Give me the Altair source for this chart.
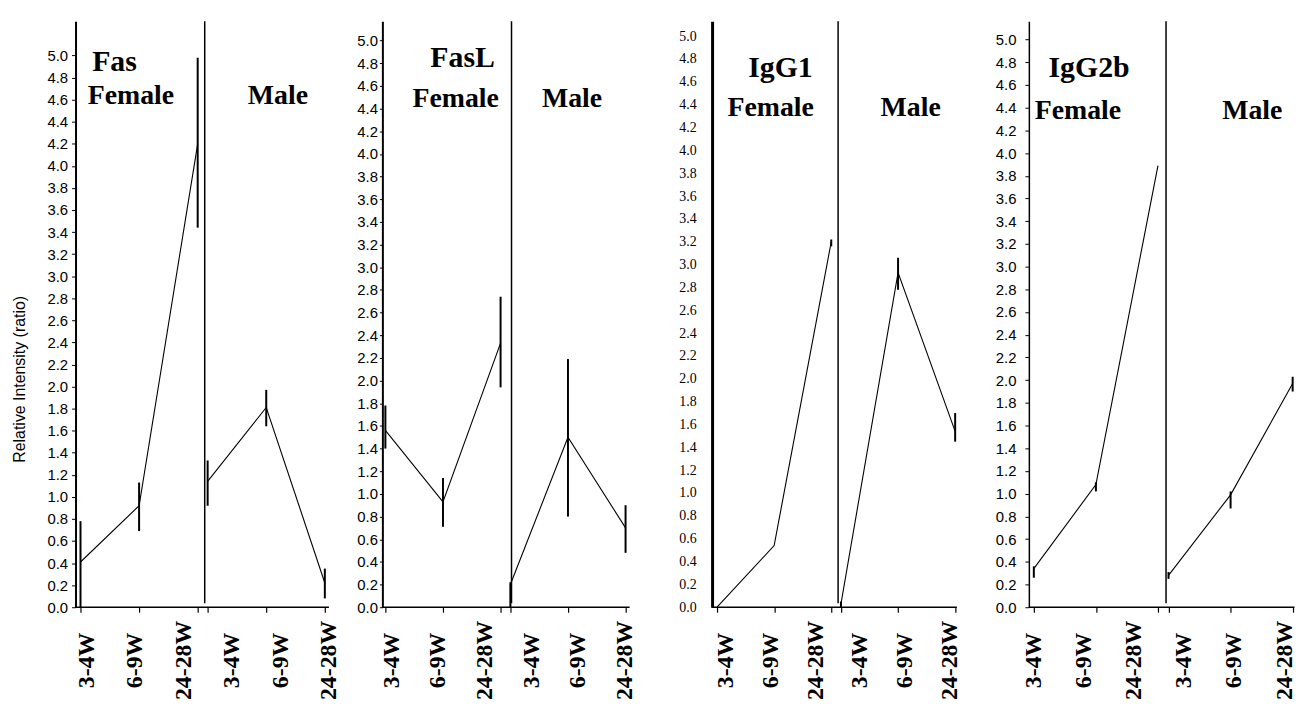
import altair as alt
import pandas as pd

# ---------------- data ----------------
panel_names = ["Fas", "FasL", "IgG1", "IgG2b"]
sexes = ["Female", "Male"]
ages = ["3-4W", "6-9W", "24-28W"]

# order: Female 3-4W, 6-9W, 24-28W, Male 3-4W, 6-9W, 24-28W
fas_mean = [0.41, 0.92, 4.20, 1.14, 1.81, 0.22]
fas_low = [0.00, 0.69, 3.44, 0.92, 1.64, 0.08]
fas_high = [0.78, 1.13, 4.98, 1.33, 1.97, 0.35]

fasl_mean = [1.56, 0.93, 2.33, 0.20, 1.50, 0.70]
fasl_low = [1.40, 0.71, 1.94, 0.00, 0.80, 0.48]
fasl_high = [1.78, 1.14, 2.74, 0.22, 2.19, 0.90]

igg1_mean = [0.00, 0.54, 3.20, 0.03, 2.93, 1.54]
igg1_low = [0.00, 0.54, 3.16, 0.00, 2.78, 1.45]
igg1_high = [0.00, 0.54, 3.22, 0.05, 3.06, 1.70]

igg2b_mean = [0.34, 1.08, 3.89, 0.28, 0.99, 1.97]
igg2b_low = [0.26, 1.02, 3.89, 0.25, 0.87, 1.90]
igg2b_high = [0.36, 1.10, 3.89, 0.31, 1.02, 2.03]

y_ticks = [0.0, 0.2, 0.4, 0.6, 0.8, 1.0, 1.2, 1.4, 1.6, 1.8, 2.0, 2.2, 2.4,
           2.6, 2.8, 3.0, 3.2, 3.4, 3.6, 3.8, 4.0, 4.2, 4.4, 4.6, 4.8, 5.0]

y_title = "Relative Intensity (ratio)"

series = {
    "Fas": (fas_mean, fas_low, fas_high),
    "FasL": (fasl_mean, fasl_low, fasl_high),
    "IgG1": (igg1_mean, igg1_low, igg1_high),
    "IgG2b": (igg2b_mean, igg2b_low, igg2b_high),
}

# ---------------- layout ----------------
H = 590
MALE_SHIFT = 2.17

layout = {
    "Fas": dict(width=283, xmin=-0.085, step=59, ymax=5.31, div=2.12, xend=4.24,
                lab0=11, lab5=255, font="Liberation Sans", fsize=15, tick=4, pad=4, dw=2,
                ann_x=[0.58, 0.86, 3.37], ann_y=[4.94, 4.63, 4.63]),
    "FasL": dict(width=298, xmin=-0.052, step=58, ymax=5.17, div=2.19, xend=4.24,
                 lab0=9, lab5=244, font="Liberation Sans", fsize=15, tick=3, pad=2, dw=2,
                 ann_x=[1.34, 1.22, 3.24], ann_y=[4.85, 4.48, 4.48]),
    "IgG1": dict(width=285, xmin=-0.087, step=57.5, ymax=5.13, div=2.12, xend=4.2,
                 lab0=14, lab5=239, font="Liberation Serif", fsize=14, tick=0, pad=16, dw=3,
                 ann_x=[1.11, 0.94, 3.39], ann_y=[4.72, 4.37, 4.37]),
    "IgG2b": dict(width=268, xmin=-0.08, step=62.5, ymax=5.16, div=2.13, xend=4.2,
                  lab0=5, lab5=257, font="Liberation Sans", fsize=15, tick=4, pad=9, dw=1.5,
                  ann_x=[0.89, 0.71, 3.52], ann_y=[4.75, 4.37, 4.37]),
}


def make_panel(i, name):
    L = layout[name]
    means, lows, highs = series[name]
    xmax = L["xmin"] + L["width"] / L["step"]

    def xs():
        return alt.Scale(domain=[L["xmin"], xmax], nice=False, zero=False)

    def ys():
        return alt.Scale(domain=[0, L["ymax"]], nice=False, zero=False)

    rows = []
    for k in range(6):
        s, a = divmod(k, 3)
        rows.append({"sex": sexes[s], "age": ages[a], "pos": a + s * MALE_SHIFT,
                     "mean": means[k], "low": lows[k], "high": highs[k]})
    df = pd.DataFrame(rows)
    positions = [float(p) for p in df["pos"]]

    tick_axis = alt.Axis(values=positions, labels=False, domain=False, ticks=True,
                         tickSize=5, tickColor="black", tickWidth=1.2, grid=False, title=None)
    yaxis_kw = dict(values=y_ticks, format=".1f", labelFont=L["font"], labelFontSize=L["fsize"],
                    labelColor="black", labelPadding=L["pad"], labelOverlap=False,
                    domain=True, domainColor="black",
                    domainWidth=L["dw"], grid=False, tickColor="black", tickWidth=1,
                    tickSize=L["tick"], ticks=bool(L["tick"] > 0))
    if i == 0:
        yaxis_kw.update(title=y_title, titleFont="Liberation Sans", titleFontSize=16,
                        titleFontWeight="normal", titleColor="black", titlePadding=20, titleY=360)
    else:
        yaxis_kw.update(title=None)

    def ya():
        return alt.Axis(**yaxis_kw)

    base = alt.Chart(df)
    line = base.mark_line(color="black", strokeWidth=1.1).encode(
        x=alt.X("pos:Q", scale=xs(), axis=tick_axis),
        y=alt.Y("mean:Q", scale=ys(), axis=ya()),
        detail="sex:N",
    )
    err = base.mark_rule(color="black", strokeWidth=2).encode(
        x=alt.X("pos:Q", scale=xs(), axis=None),
        y=alt.Y("low:Q", scale=ys(), axis=ya()),
        y2="high:Q",
    )
    div = alt.Chart(pd.DataFrame({"d": [L["div"]]})).mark_rule(color="black", strokeWidth=1.5).encode(
        x=alt.X("d:Q", scale=xs(), axis=None), y=alt.value(0), y2=alt.value(H - 4)
    )
    baseline = alt.Chart(pd.DataFrame({"a": [L["xmin"]], "b": [L["xend"]], "z": [0.0]})).mark_rule(
        color="black", strokeWidth=1.5).encode(
        x=alt.X("a:Q", scale=xs(), axis=None), x2="b:Q", y=alt.Y("z:Q", scale=ys(), axis=ya())
    )
    ann = pd.DataFrame({"text": [name, "Female", "Male"], "ax": L["ann_x"], "ay": L["ann_y"],
                        "fs": [30, 28, 28]})
    texts = alt.Chart(ann).mark_text(font="Liberation Serif", fontWeight="bold", color="black",
                                     baseline="middle", align="center").encode(
        x=alt.X("ax:Q", scale=xs(), axis=None), y=alt.Y("ay:Q", scale=ys(), axis=ya()),
        text="text:N",
        size=alt.Size("fs:Q", scale=None, legend=None),
    )

    # label axis: evenly spaced label slots under the ticks
    span = 5 * L["width"] / (L["lab5"] - L["lab0"])
    s0 = -L["lab0"] * span / L["width"]
    slot_scale = alt.Scale(domain=[s0, s0 + span], nice=False, zero=False)
    label_expr = "[" + ",".join("'%s'" % a for a in ages * 2) + "][datum.value]"
    label_axis = alt.Axis(orient="bottom", values=[0, 1, 2, 3, 4, 5], labelExpr=label_expr,
                          labelAngle=270, labelAlign="center", labelBaseline="middle",
                          labelPadding=53, labelFont="Liberation Serif", labelFontWeight="bold",
                          labelFontSize=24, labelColor="black", labelOverlap=False,
                          labelFlush=False, ticks=False, tickSize=0, domain=False, grid=False,
                          title=None)
    labels = alt.Chart(pd.DataFrame({"slot": [0, 1, 2, 3, 4, 5]})).mark_point(opacity=0).encode(
        x=alt.X("slot:Q", scale=slot_scale, axis=label_axis)
    )

    return alt.layer(line, err, div, baseline, texts, labels).resolve_scale(
        x="independent").properties(width=L["width"], height=H)


panels = [make_panel(i, n) for i, n in enumerate(panel_names)]

chart = alt.hconcat(*panels, spacing=0).properties(
    padding={"left": 3, "top": 10, "right": 0, "bottom": 0},
    background="white",
).configure_view(stroke=None)

chart.save("out.html", embed_options={"renderer": "svg", "actions": False})
